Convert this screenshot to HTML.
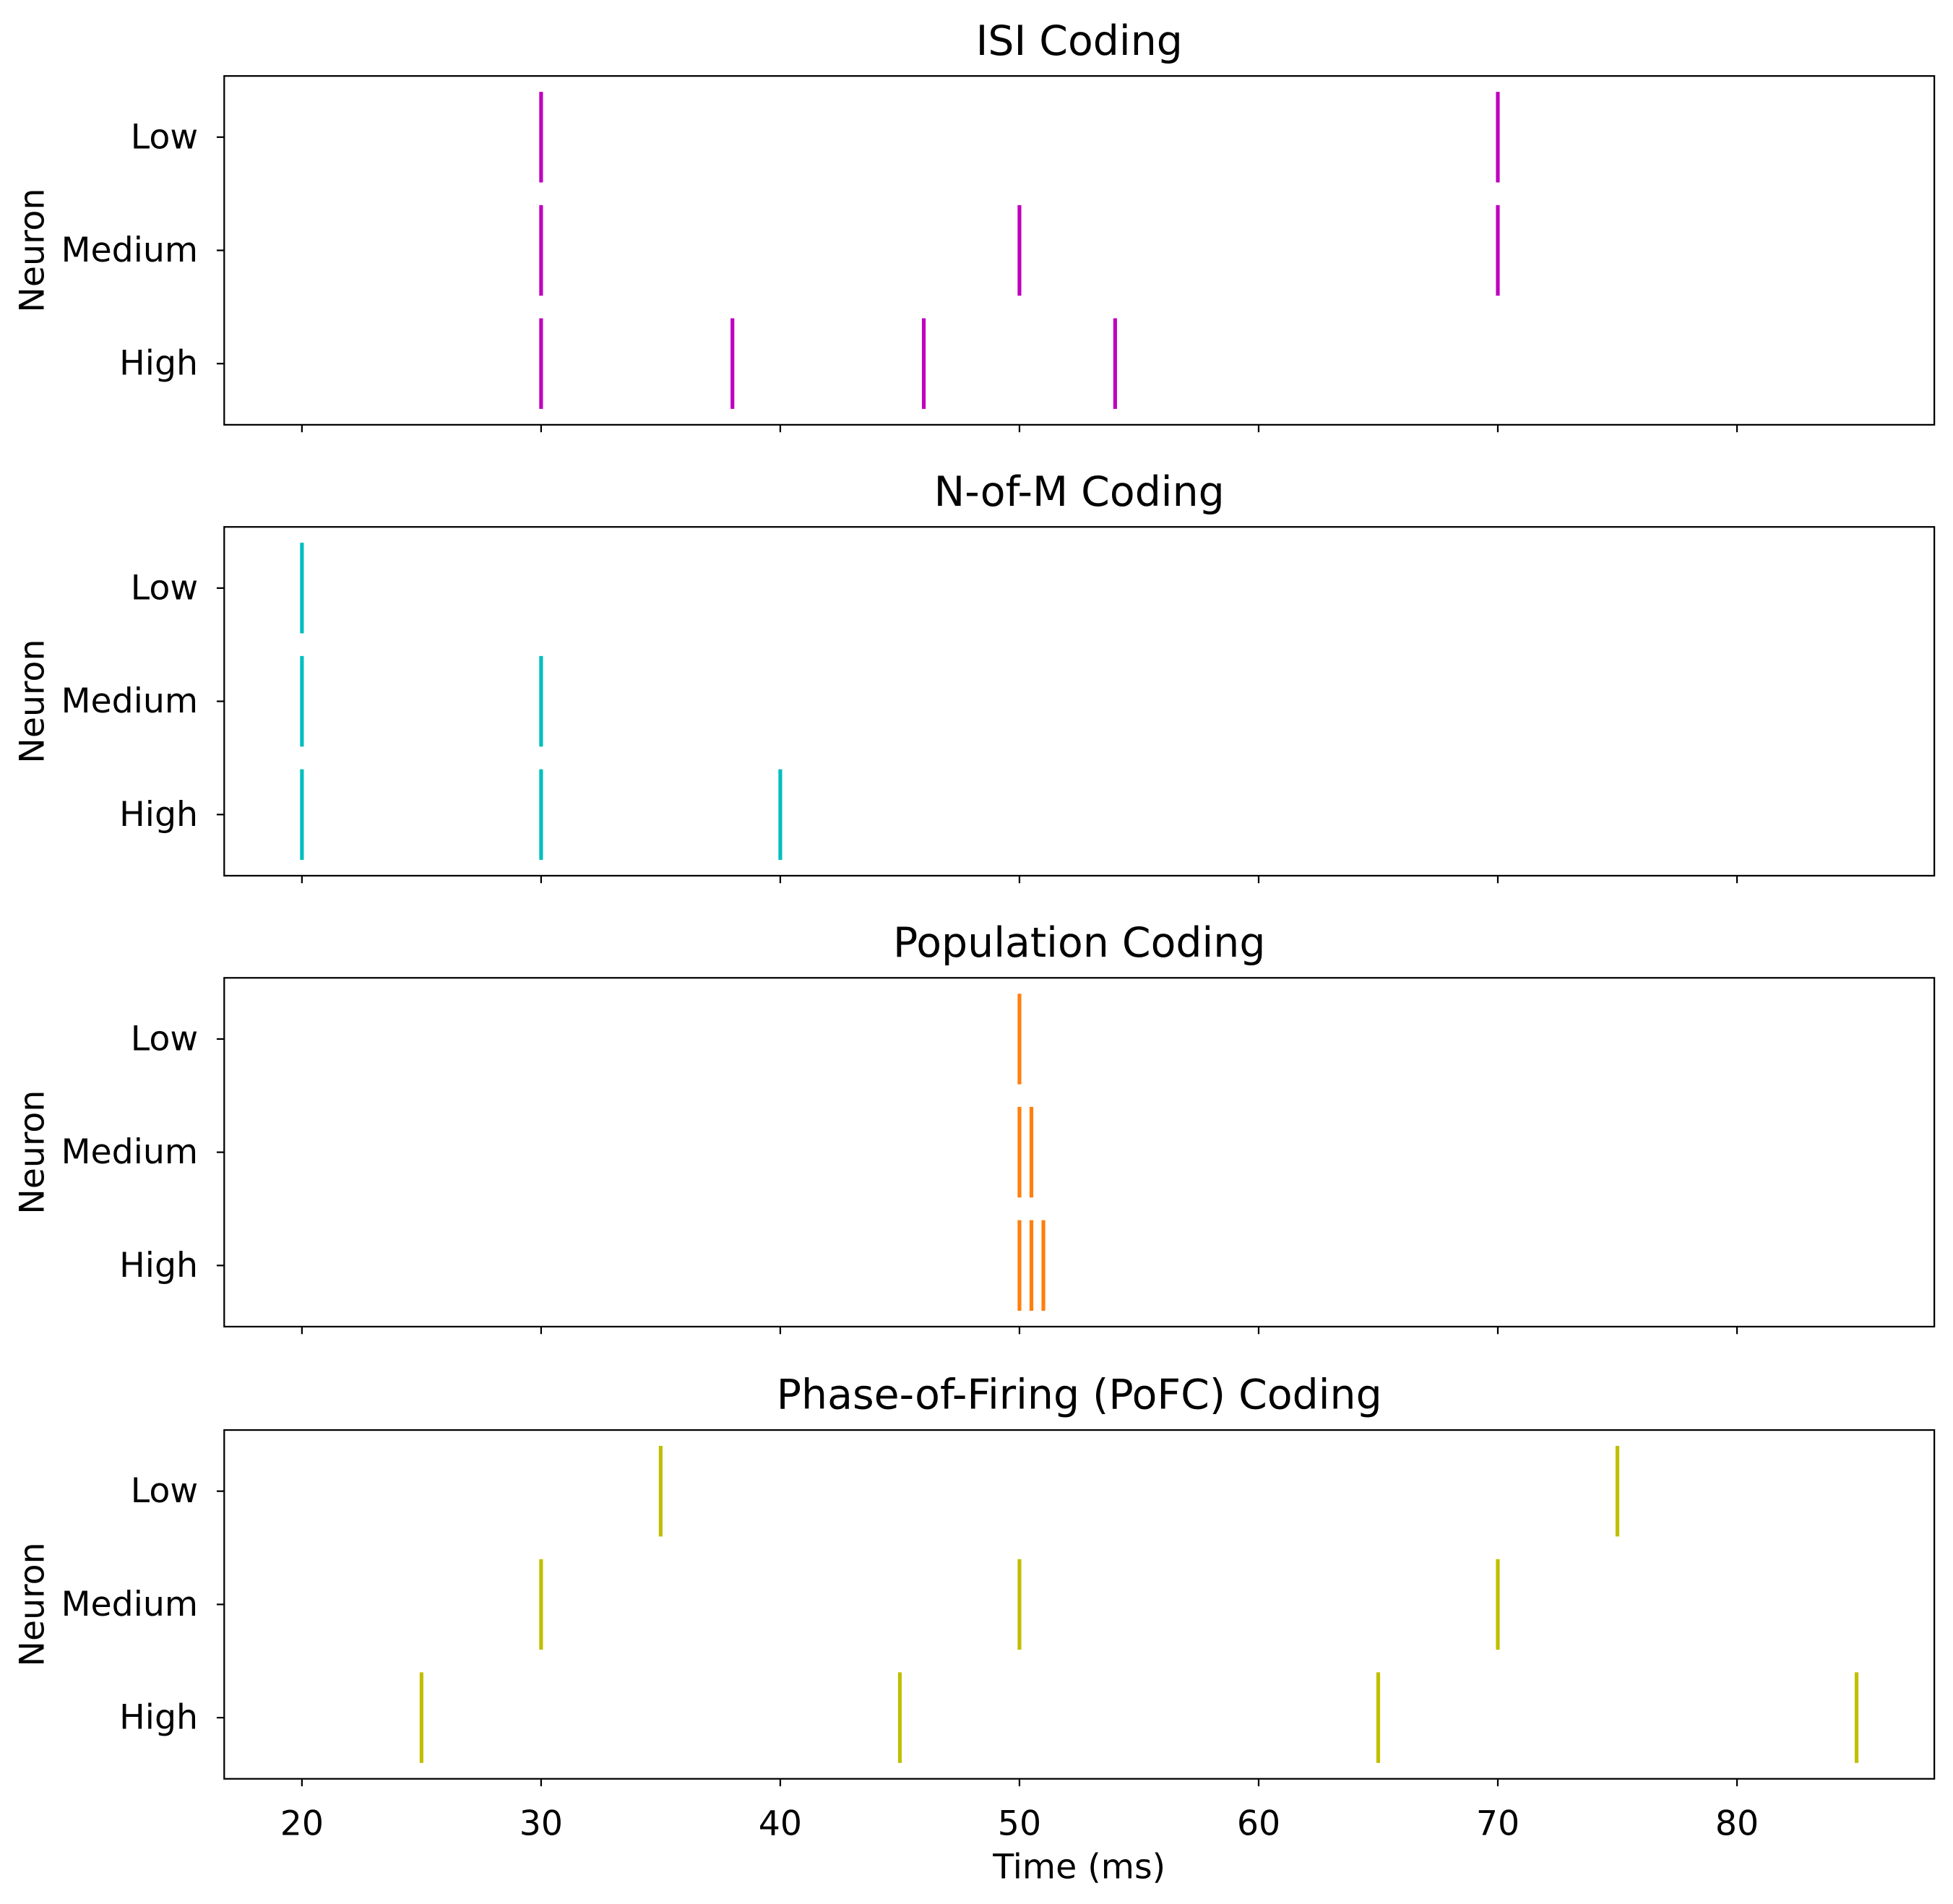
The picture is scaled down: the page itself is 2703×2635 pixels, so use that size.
<!DOCTYPE html>
<html><head><meta charset="utf-8"><style>
html,body{margin:0;padding:0;background:#fff;}
svg{display:block;font-family:"DejaVu Sans","Liberation Sans",sans-serif;}
</style></head><body>
<svg id="fig" width="2703" height="2635" viewBox="0 0 1568 1528.5" preserveAspectRatio="none" xmlns="http://www.w3.org/2000/svg"></svg>
<script>
const titles = ["ISI Coding","N-of-M Coding","Population Coding","Phase-of-Firing (PoFC) Coding"];
const neuronLabels = ["High","Medium","Low"];
const isiHigh = [30,38,46,54], isiMedium = [30,50,70], isiLow = [30,70];
const nomHigh = [20,30,40], nomMedium = [20,30], nomLow = [20];
const popHigh = [50,50.5,51], popMedium = [50,50.5], popLow = [50];
const pofcHigh = [25,45,65,85], pofcMedium = [30,50,70], pofcLow = [35,75];
const xTicks = [20,30,40,50,60,70,80];
const panelData = [[isiHigh,isiMedium,isiLow],[nomHigh,nomMedium,nomLow],[popHigh,popMedium,popLow],[pofcHigh,pofcMedium,pofcLow]];
const colors = ["#bf00bf","#00bfbf","#ff7f0e","#bfbf00"];
const names = ["isi","n-of-m","population","pofc"];

const NS="http://www.w3.org/2000/svg";
const svg=document.getElementById('fig');
const L=180,R=1553, tops=[61,423,785,1148], H=280;
const xmin=16.75,xmax=88.25, ymin=-0.54,ymax=2.54;
const TF=27.5, TT=33;
const xs=v=>L+(v-xmin)/(xmax-xmin)*(R-L);
function mk(tag,attrs,parent){const e=document.createElementNS(NS,tag);for(const k in attrs)e.setAttribute(k,attrs[k]);(parent||svg).appendChild(e);return e;}

panelData.forEach((series,p)=>{
  const T=tops[p], B=T+H;
  const ys=v=>B-(v-ymin)/(ymax-ymin)*H;
  const g=mk('g',{});
  
  
  series.forEach((arr,i)=>{
    arr.forEach(t=>{
      const ln=mk('line',{x1:xs(t),x2:xs(t),y1:ys(i+0.4),y2:ys(i-0.4),stroke:colors[p],'stroke-width':3},g);
      
      
    });
    const tk=mk('line',{x1:L-6,x2:L,y1:ys(i),y2:ys(i),stroke:'#000','stroke-width':1.3},g);
    
    
    const tl=mk('text',{x:L-21,y:ys(i)+9,'text-anchor':'end','font-size':TF},g);
    tl.textContent=neuronLabels[i];
    
    
  });
  xTicks.forEach(v=>{
    const tk=mk('line',{x1:xs(v),x2:xs(v),y1:B,y2:B+6,stroke:'#000','stroke-width':1.3},g);
    
    
    if(p===3){
      const tl=mk('text',{x:xs(v),y:B+45,'text-anchor':'middle','font-size':TF},g);
      tl.textContent=v;
      
      
    }
  });
  const fr=mk('rect',{x:L,y:T,width:R-L,height:H,fill:'none',stroke:'#000','stroke-width':1.3},g);
  
  
  const ti=mk('text',{x:(L+R)/2,y:T-17,'text-anchor':'middle','font-size':TT},g);
  ti.textContent=titles[p];
  
  
  const yl=mk('text',{x:0,y:0,'text-anchor':'middle','font-size':TF,transform:`translate(35,${T+H/2}) rotate(-90)`},g);
  yl.textContent='Neuron';
  
  
});
const xl=mk('text',{x:(L+R)/2,y:1508,'text-anchor':'middle','font-size':TF});
xl.textContent='Time (ms)';


</script>
</body></html>
